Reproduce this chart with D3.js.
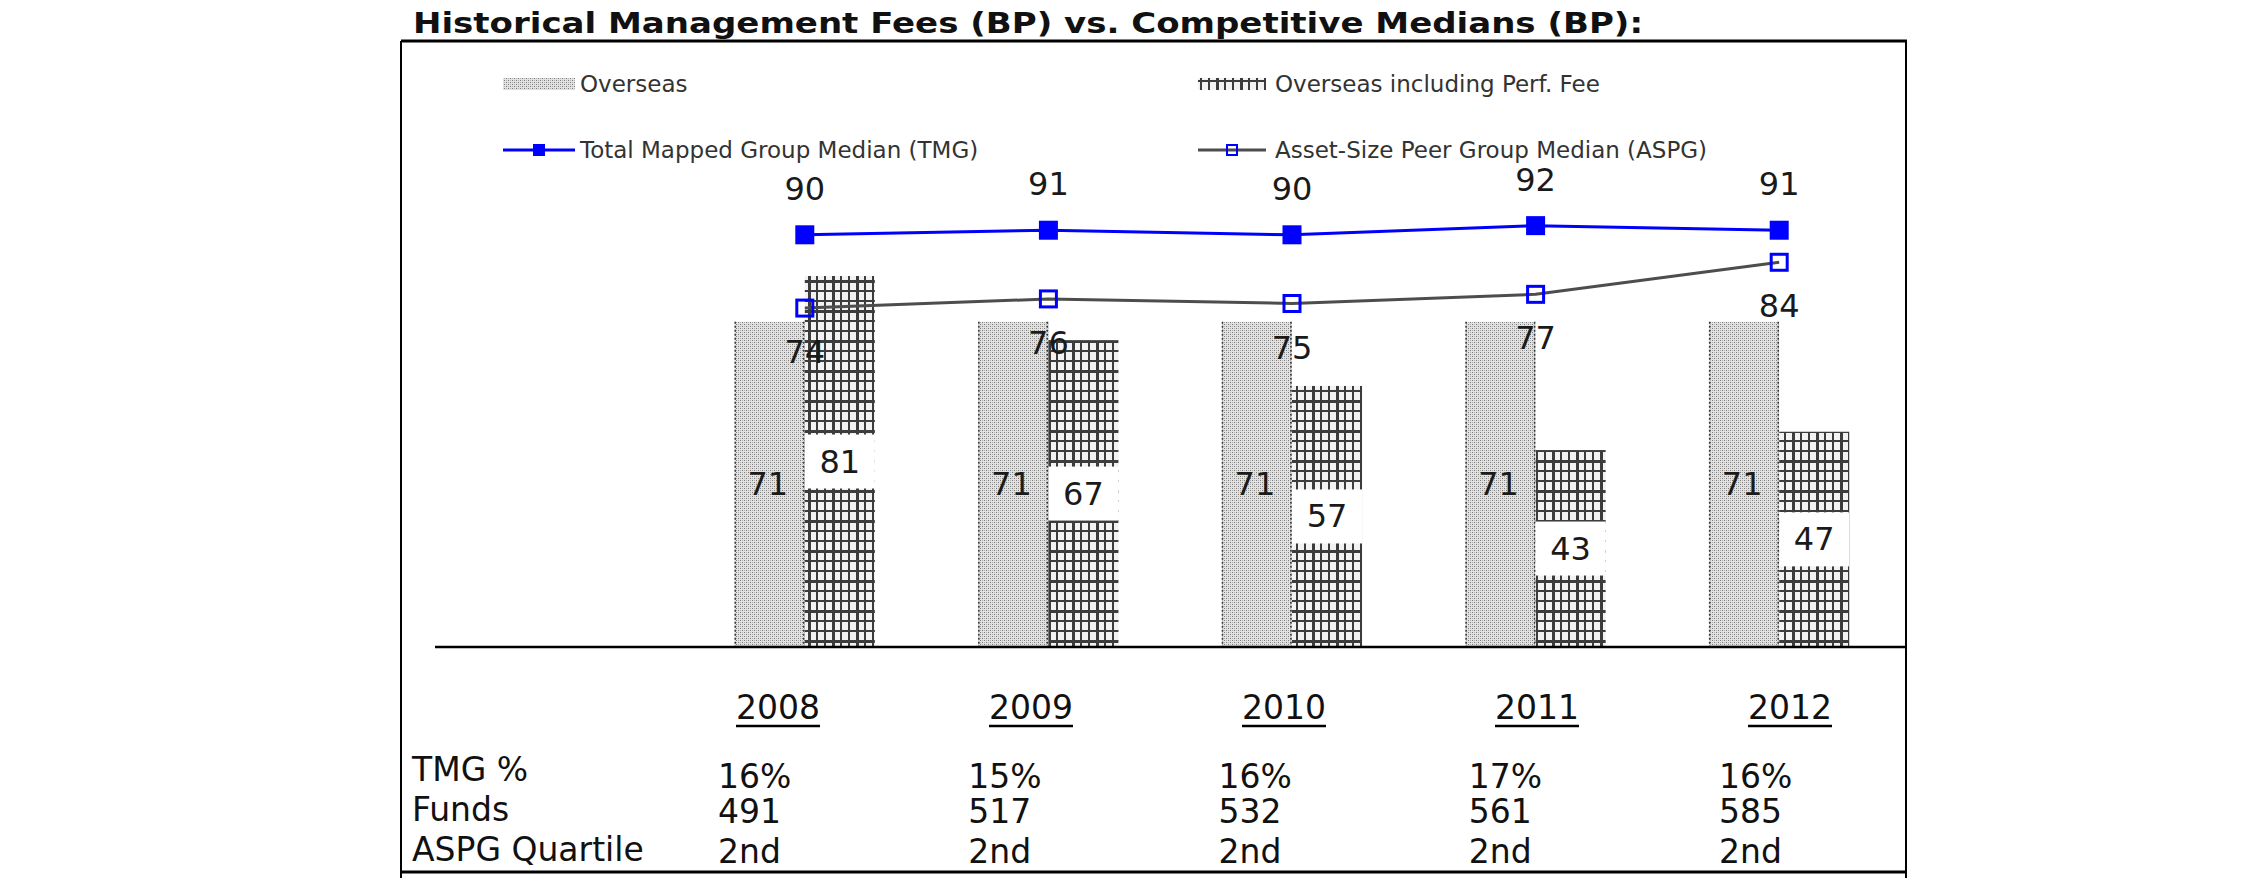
<!DOCTYPE html>
<html>
<head>
<meta charset="utf-8">
<script src="https://cdn.jsdelivr.net/npm/d3@7"></script>
<style>
  body { margin: 0; background: #fff; }
  text { font-family: "DejaVu Sans", Verdana, sans-serif; }
</style>
</head>
<body>
<div id="chart"></div>
<script>
var svgWidth = 2250;
var svgHeight = 895;

// data
var years = ["2008", "2009", "2010", "2011", "2012"];
var overseas = [71, 71, 71, 71, 71];
var overseasPerf = [81, 67, 57, 43, 47];
var tmgMedian = [90, 91, 90, 92, 91];
var aspgMedian = [74, 76, 75, 77, 84];
var tmgPct = ["16%", "15%", "16%", "17%", "16%"];
var funds = ["491", "517", "532", "561", "585"];
var aspgQuartile = ["2nd", "2nd", "2nd", "2nd", "2nd"];
var rowLabels = ["TMG %", "Funds", "ASPG Quartile"];
var legendLabels = ["Overseas", "Overseas including Perf. Fee",
  "Total Mapped Group Median (TMG)", "Asset-Size Peer Group Median (ASPG)"];
var title = "Historical Management Fees (BP) vs. Competitive Medians (BP):";

var box = { left: 401, top: 41, right: 1906, bottom: 872 };
var baseY = 647;

var svg = d3.select("#chart")
  .append("svg")
  .attr("width", svgWidth)
  .attr("height", svgHeight);

svg.append("rect").attr("width", svgWidth).attr("height", svgHeight).attr("fill", "#fff");

// fill patterns
var defs = svg.append("defs");

var stipple = defs.append("pattern")
  .attr("id", "stipple")
  .attr("patternUnits", "userSpaceOnUse")
  .attr("width", 4)
  .attr("height", 4);
stipple.append("rect").attr("width", 4).attr("height", 4).attr("fill", "#e2e2e2");
[[0, 0, "#7a7a7a"], [2, 2, "#7a7a7a"], [2, 0, "#b4b4b4"], [0, 2, "#b4b4b4"]].forEach(function(p) {
  stipple.append("rect").attr("x", p[0]).attr("y", p[1]).attr("width", 1).attr("height", 1).attr("fill", p[2]);
});

var grid = defs.append("pattern")
  .attr("id", "grid")
  .attr("patternUnits", "userSpaceOnUse")
  .attr("width", 24)
  .attr("height", 30);
grid.append("rect").attr("width", 24).attr("height", 30).attr("fill", "#f2f2f2");
[[0, 2], [8, 2], [16, 3]].forEach(function(v) {
  grid.append("rect").attr("x", v[0]).attr("y", 0).attr("width", v[1]).attr("height", 30).attr("fill", "#3c3c3c");
});
[[0, 2], [10, 3], [20, 2]].forEach(function(h) {
  grid.append("rect").attr("x", 0).attr("y", h[0]).attr("width", 24).attr("height", h[1]).attr("fill", "#3c3c3c");
});

// scales
var x0 = d3.scaleBand()
  .domain(years)
  .range([683, 1901])
  .paddingInner(0.425)
  .paddingOuter(0.2125);

var x1 = d3.scaleBand()
  .domain(["overseas", "perf"])
  .range([0, x0.bandwidth()]);

var y = d3.scaleLinear()
  .domain([0, 100])
  .range([baseY, 189]);

var cx = function(yr) { return x0(yr) + x0.bandwidth() / 2; };

// title
svg.append("text")
  .attr("x", 413)
  .attr("y", 33)
  .attr("font-size", 28)
  .attr("font-weight", "bold")
  .attr("fill", "#111")
  .attr("textLength", 1230)
  .attr("lengthAdjust", "spacingAndGlyphs")
  .text(title);

// border
var border = svg.append("g").attr("stroke", "#000");
border.append("line").attr("x1", box.left).attr("x2", box.right + 1).attr("y1", box.top).attr("y2", box.top).attr("stroke-width", 3);
border.append("line").attr("x1", box.left).attr("x2", box.right + 1).attr("y1", box.bottom).attr("y2", box.bottom).attr("stroke-width", 3);
border.append("line").attr("x1", box.left).attr("x2", box.left).attr("y1", box.top).attr("y2", box.bottom + 6).attr("stroke-width", 2);
border.append("line").attr("x1", box.right).attr("x2", box.right).attr("y1", box.top).attr("y2", box.bottom + 6).attr("stroke-width", 2);

var barData = years.map(function(yr, i) {
  return { year: yr, overseas: overseas[i], perf: overseasPerf[i] };
});

// overseas bars
var ovGroup = svg.append("g");
ovGroup.selectAll("rect")
  .data(barData)
  .enter()
  .append("rect")
  .attr("x", d => x0(d.year) + x1("overseas"))
  .attr("y", d => y(d.overseas))
  .attr("width", x1.bandwidth())
  .attr("height", d => baseY - y(d.overseas))
  .attr("fill", "url(#stipple)");

// dotted edges on the overseas bars
ovGroup.selectAll("path.edge")
  .data(barData)
  .enter()
  .append("path")
  .attr("class", "edge")
  .attr("d", function(d) {
    var xl = x0(d.year) + x1("overseas") + 0.5;
    var xr = xl + x1.bandwidth() - 1.5;
    return "M" + xl + "," + y(d.overseas) + "V" + baseY + "M" + xr + "," + y(d.overseas) + "V" + baseY;
  })
  .attr("stroke", "#333")
  .attr("stroke-width", 1.5)
  .attr("stroke-dasharray", "2,2");

// perf fee bars
svg.append("g").selectAll("rect")
  .data(barData)
  .enter()
  .append("rect")
  .attr("x", d => x0(d.year) + x1("perf"))
  .attr("y", d => y(d.perf))
  .attr("width", x1.bandwidth())
  .attr("height", d => baseY - y(d.perf))
  .attr("fill", "url(#grid)");

// perf labels in white boxes
var perfLab = svg.append("g");
perfLab.selectAll("rect")
  .data(barData)
  .enter()
  .append("rect")
  .attr("x", d => x0(d.year) + x1("perf"))
  .attr("y", d => (y(d.perf) + baseY) / 2 - 27)
  .attr("width", x1.bandwidth())
  .attr("height", 54)
  .attr("fill", "#fff");
perfLab.selectAll("text")
  .data(barData)
  .enter()
  .append("text")
  .attr("x", d => x0(d.year) + x1("perf") + x1.bandwidth() / 2)
  .attr("y", d => (y(d.perf) + baseY) / 2 + 11)
  .attr("text-anchor", "middle")
  .attr("font-size", 32)
  .attr("fill", "#1a1a1a")
  .text(d => d.perf);

// overseas labels
svg.append("g").selectAll("text")
  .data(barData)
  .enter()
  .append("text")
  .attr("x", d => x0(d.year) + x1("overseas") + x1.bandwidth() / 2 - 2)
  .attr("y", d => (y(d.overseas) + baseY) / 2 + 11)
  .attr("text-anchor", "middle")
  .attr("font-size", 32)
  .attr("fill", "#1a1a1a")
  .text(d => d.overseas);

// baseline
svg.append("line")
  .attr("x1", 435).attr("x2", box.right)
  .attr("y1", baseY).attr("y2", baseY)
  .attr("stroke", "#000")
  .attr("stroke-width", 2.5);

// median lines
var line = d3.line()
  .x((d, i) => cx(years[i]))
  .y(d => y(d));

svg.append("path")
  .datum(aspgMedian)
  .attr("d", line)
  .attr("fill", "none")
  .attr("stroke", "#4d4d4d")
  .attr("stroke-width", 3);

svg.append("path")
  .datum(tmgMedian)
  .attr("d", line)
  .attr("fill", "none")
  .attr("stroke", "#0000ff")
  .attr("stroke-width", 3);

svg.append("g").selectAll("rect")
  .data(aspgMedian)
  .enter()
  .append("rect")
  .attr("x", (d, i) => cx(years[i]) - 8)
  .attr("y", d => y(d) - 8)
  .attr("width", 16)
  .attr("height", 16)
  .attr("fill", "none")
  .attr("stroke", "#0000ff")
  .attr("stroke-width", 3);

svg.append("g").selectAll("rect")
  .data(tmgMedian)
  .enter()
  .append("rect")
  .attr("x", (d, i) => cx(years[i]) - 9.5)
  .attr("y", d => y(d) - 9.5)
  .attr("width", 19)
  .attr("height", 19)
  .attr("fill", "#0000ff");

// median labels
svg.append("g").selectAll("text")
  .data(tmgMedian)
  .enter()
  .append("text")
  .attr("x", (d, i) => cx(years[i]))
  .attr("y", d => y(d) - 35)
  .attr("text-anchor", "middle")
  .attr("font-size", 32)
  .attr("fill", "#1a1a1a")
  .text(d => d);

svg.append("g").selectAll("text")
  .data(aspgMedian)
  .enter()
  .append("text")
  .attr("x", (d, i) => cx(years[i]))
  .attr("y", d => y(d) + 55)
  .attr("text-anchor", "middle")
  .attr("font-size", 32)
  .attr("fill", "#1a1a1a")
  .text(d => d);

// legend
var legend = svg.append("g");
var legCols = [503, 1198];
var legRows = [84, 150];

legend.append("rect").attr("x", legCols[0]).attr("y", legRows[0] - 6).attr("width", 72).attr("height", 12).attr("fill", "url(#stipple)");
legend.append("rect").attr("x", legCols[1]).attr("y", legRows[0] - 6).attr("width", 68).attr("height", 12).attr("fill", "url(#grid)");

legend.append("line").attr("x1", legCols[0]).attr("x2", legCols[0] + 72).attr("y1", legRows[1]).attr("y2", legRows[1])
  .attr("stroke", "#0000ff").attr("stroke-width", 3);
legend.append("rect").attr("x", legCols[0] + 30).attr("y", legRows[1] - 6).attr("width", 12).attr("height", 12).attr("fill", "#0000ff");

legend.append("line").attr("x1", legCols[1]).attr("x2", legCols[1] + 68).attr("y1", legRows[1]).attr("y2", legRows[1])
  .attr("stroke", "#4d4d4d").attr("stroke-width", 3);
legend.append("rect").attr("x", legCols[1] + 29).attr("y", legRows[1] - 5).attr("width", 10).attr("height", 10)
  .attr("fill", "none").attr("stroke", "#0000ff").attr("stroke-width", 2);

legend.selectAll("text")
  .data(legendLabels)
  .enter()
  .append("text")
  .attr("x", (d, i) => legCols[i % 2] + 77)
  .attr("y", (d, i) => legRows[Math.floor(i / 2)] + 8)
  .attr("font-size", 23)
  .attr("fill", "#333")
  .text(d => d);

// table under the chart
var yearX = d3.scalePoint().domain(years).range([778, 1790]);
var colX = d3.scalePoint().domain(years).range([718, 1719]);

var yearLabels = svg.append("g").selectAll("text")
  .data(years)
  .enter()
  .append("text")
  .attr("x", d => yearX(d))
  .attr("y", 719)
  .attr("text-anchor", "middle")
  .attr("font-size", 33)
  .attr("fill", "#111")
  .text(d => d);

yearLabels.each(function(d) {
  var w = this.getComputedTextLength();
  svg.append("line")
    .attr("x1", yearX(d) - w / 2).attr("x2", yearX(d) + w / 2)
    .attr("y1", 726).attr("y2", 726)
    .attr("stroke", "#000")
    .attr("stroke-width", 2.5);
});

var rowY = [781, 821, 861];
var valY = [788, 823, 863];

svg.append("g").selectAll("text")
  .data(rowLabels)
  .enter()
  .append("text")
  .attr("x", 412)
  .attr("y", (d, i) => rowY[i])
  .attr("font-size", 33)
  .attr("fill", "#111")
  .text(d => d);

[tmgPct, funds, aspgQuartile].forEach(function(row, r) {
  svg.append("g").selectAll("text")
    .data(row)
    .enter()
    .append("text")
    .attr("x", (d, i) => colX(years[i]))
    .attr("y", valY[r])
    .attr("font-size", 33)
    .attr("fill", "#111")
    .text(d => d);
});
</script>
</body>
</html>
